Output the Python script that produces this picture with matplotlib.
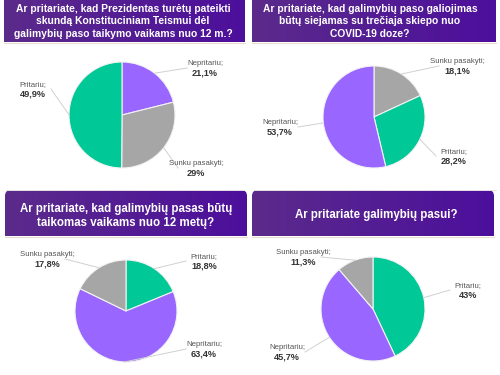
import numpy as np
import matplotlib
matplotlib.use('Agg')
from matplotlib import pyplot as plt
from matplotlib.patches import FancyBboxPatch

plt.rcParams['font.family'] = ['Liberation Sans', 'DejaVu Sans']

# ---------------------------------------------------------------------------
# data (drawn clockwise from 12 o'clock, in the order given)
# ---------------------------------------------------------------------------
titles = [
    'Ar pritariate, kad Prezidentas turėtų pateikti\nskundą Konstituciniam Teismui dėl\ngalimybių paso taikymo vaikams nuo 12 m.?',
    'Ar pritariate, kad galimybių paso galiojimas\nbūtų siejamas su trečiaja skiepo nuo\nCOVID-19 doze?',
    'Ar pritariate, kad galimybių pasas būtų\ntaikomas vaikams nuo 12 metų?',
    'Ar pritariate galimybių pasui?',
]
labels_q1 = ['Nepritariu', 'Sunku pasakyti', 'Pritariu']
values_q1 = [21.1, 29.0, 49.9]
labels_q2 = ['Sunku pasakyti', 'Pritariu', 'Nepritariu']
values_q2 = [18.1, 28.2, 53.7]
labels_q3 = ['Pritariu', 'Nepritariu', 'Sunku pasakyti']
values_q3 = [18.8, 63.4, 17.8]
labels_q4 = ['Pritariu', 'Nepritariu', 'Sunku pasakyti']
values_q4 = [43.0, 45.7, 11.3]

colors = {'Pritariu': '#00c896', 'Nepritariu': '#9966ff',
          'Sunku pasakyti': '#a6a6a6'}

W, H = 500, 375

# layout in pixels: header box, title centre, pie centre/radius, label spots
panels = [
    dict(box=(4, -8, 241, 50), rounded=False, title_xy=(123, 21.5), tsize=7.4,
         centre=(122, 115), radius=53,
         spots=[(205, 68), (196, 168), (33, 89)]),
    dict(box=(252, -8, 244, 50), rounded=False, title_xy=(370, 21.5), tsize=7.4,
         centre=(374, 117), radius=51,
         spots=[(457, 66), (454, 156), (280, 127)]),
    dict(box=(5, 190, 242, 46), rounded=True, title_xy=(126, 216), tsize=8.3,
         centre=(126, 311), radius=51,
         spots=[(204, 261), (204, 349), (47, 259)]),
    dict(box=(252, 190, 242, 46), rounded=True, title_xy=(376, 215), tsize=8.3,
         centre=(373, 309), radius=52,
         spots=[(468, 290), (287, 352), (303, 257)]),
]
all_labels = [labels_q1, labels_q2, labels_q3, labels_q4]
all_values = [values_q1, values_q2, values_q3, values_q4]

fig = plt.figure(figsize=(W / 100, H / 100), dpi=100)
fig.patch.set_facecolor('white')

bg = fig.add_axes([0, 0, 1, 1])
bg.set_xlim(0, W)
bg.set_ylim(H, 0)
bg.axis('off')

grad = np.linspace(0, 1, 256).reshape(1, -1)
cmap = matplotlib.colors.LinearSegmentedColormap.from_list(
    'hdr', ['#5b2b8b', '#4c0f9c'])

for p, title in zip(panels, titles):
    x, y, w, h = p['box']
    if p['rounded']:
        clip = FancyBboxPatch((x, y), w, h + 10,
                              boxstyle='round,pad=0,rounding_size=6',
                              transform=bg.transData, facecolor='none',
                              edgecolor='none')
    else:
        clip = FancyBboxPatch((x, y), w, h, boxstyle='square,pad=0',
                              transform=bg.transData, facecolor='none',
                              edgecolor='none')
    bg.add_patch(clip)
    im = bg.imshow(grad, cmap=cmap, aspect='auto',
                   extent=(x, x + w, y + h, y), zorder=1)
    im.set_clip_path(clip)
    bg.plot([x, x + w], [y + h + 0.6, y + h + 0.6], color='#e9dccd', lw=0.8,
            zorder=1)
    bg.text(*p['title_xy'], title, color='white', fontweight='bold',
            fontsize=p['tsize'], ha='center', va='center', linespacing=1.3,
            zorder=2)

# thin separators under the top row
for x0, x1 in [(6, 244), (254, 496)]:
    bg.plot([x0, x1], [189.5, 189.5], color='#e4e4e4', lw=0.7)
bg.set_xlim(0, W)
bg.set_ylim(H, 0)

for p, labels, values in zip(panels, all_labels, all_values):
    cx, cy = p['centre']
    R = p['radius']
    ax = fig.add_axes([(cx - R) / W, 1 - (cy + R) / H, 2 * R / W, 2 * R / H])
    wedges, _ = ax.pie(values, colors=[colors[l] for l in labels],
                       startangle=90, counterclock=False, radius=1,
                       wedgeprops=dict(edgecolor='#f2f2f2', linewidth=0.8))
    ax.set_xlim(-1, 1)
    ax.set_ylim(-1, 1)
    ax.axis('off')
    for wdg, lab, val, (sx, sy) in zip(wedges, labels, values, p['spots']):
        tx = (sx - cx) / R
        ty = -(sy - cy) / R
        mid = np.deg2rad((wdg.theta1 + wdg.theta2) / 2)
        ex, ey = np.cos(mid), np.sin(mid)
        side = -1 if tx > 0 else 1
        lx = tx + side * 18 / R
        ly = ty
        ax.plot([ex, lx], [ey, ly], color='#d0d0d0', lw=0.7, clip_on=False)
        ax.text(tx, ty + 1 / R, lab + ';', ha='center', va='bottom',
                fontsize=5.6, color='#555555')
        txt = f'{val:g}'.replace('.', ',') + '%'
        ax.text(tx, ty - 0.5 / R, txt, ha='center', va='top',
                fontsize=6.6, fontweight='bold', color='#333333')

fig.savefig('out.png', dpi=100)
